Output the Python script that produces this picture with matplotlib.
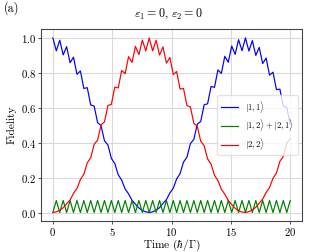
import matplotlib
matplotlib.use("Agg")
import matplotlib.pyplot as plt

plt.rcParams["font.family"] = "serif"
plt.rcParams["font.serif"] = ["cmr10", "DejaVu Serif"]
plt.rcParams["mathtext.fontset"] = "cm"
plt.rcParams["axes.unicode_minus"] = False
plt.rcParams["axes.formatter.use_mathtext"] = True

# sampled at the peaks / troughs of the fast oscillation
time = [0.00, 0.29, 0.58, 0.87, 1.16, 1.45, 1.74, 2.03, 2.32, 2.61,
        2.90, 3.19, 3.48, 3.77, 4.06, 4.35, 4.64, 4.93, 5.22, 5.51,
        5.80, 6.09, 6.38, 6.67, 6.96, 7.25, 7.54, 7.83, 8.12, 8.41,
        8.70, 8.99, 9.28, 9.57, 9.86, 10.15, 10.43, 10.72, 11.01, 11.30,
        11.59, 11.88, 12.17, 12.46, 12.75, 13.04, 13.33, 13.62, 13.91, 14.20,
        14.49, 14.78, 15.07, 15.36, 15.65, 15.94, 16.23, 16.52, 16.81, 17.10,
        17.39, 17.68, 17.97, 18.26, 18.55, 18.84, 19.13, 19.42, 19.71, 20.00]

fid_11 = [1.000, 0.926, 0.987, 0.903, 0.950, 0.858, 0.890, 0.792, 0.811, 0.711,
          0.715, 0.616, 0.610, 0.515, 0.498, 0.411, 0.387, 0.310, 0.281, 0.216,
          0.186, 0.135, 0.107, 0.070, 0.048, 0.026, 0.012, 0.004, 0.000, 0.004,
          0.013, 0.028, 0.052, 0.074, 0.112, 0.140, 0.192, 0.223, 0.289, 0.317,
          0.395, 0.419, 0.506, 0.522, 0.617, 0.623, 0.722, 0.717, 0.817, 0.797,
          0.895, 0.861, 0.954, 0.906, 0.990, 0.927, 1.000, 0.925, 0.985, 0.900,
          0.946, 0.853, 0.885, 0.787, 0.804, 0.704, 0.707, 0.609, 0.601, 0.507]

fid_sym = [0.000, 0.069, 0.000, 0.069, 0.000, 0.069, 0.000, 0.069, 0.000, 0.069,
           0.000, 0.069, 0.000, 0.069, 0.000, 0.069, 0.000, 0.069, 0.000, 0.069,
           0.000, 0.069, 0.000, 0.069, 0.000, 0.069, 0.000, 0.069, 0.000, 0.069,
           0.000, 0.069, 0.000, 0.069, 0.000, 0.069, 0.000, 0.069, 0.000, 0.069,
           0.000, 0.069, 0.000, 0.069, 0.000, 0.069, 0.000, 0.069, 0.000, 0.069,
           0.000, 0.069, 0.000, 0.069, 0.000, 0.069, 0.000, 0.069, 0.000, 0.069,
           0.000, 0.069, 0.000, 0.069, 0.000, 0.069, 0.000, 0.069, 0.000, 0.069]

fid_22 = [0.000, 0.004, 0.013, 0.027, 0.050, 0.072, 0.110, 0.138, 0.189, 0.219,
          0.285, 0.314, 0.390, 0.415, 0.502, 0.519, 0.613, 0.620, 0.719, 0.714,
          0.814, 0.795, 0.893, 0.860, 0.952, 0.904, 0.988, 0.926, 1.000, 0.926,
          0.987, 0.902, 0.949, 0.856, 0.888, 0.790, 0.808, 0.707, 0.711, 0.613,
          0.605, 0.511, 0.494, 0.408, 0.383, 0.307, 0.278, 0.213, 0.183, 0.133,
          0.105, 0.069, 0.046, 0.024, 0.010, 0.003, 0.000, 0.005, 0.015, 0.030,
          0.054, 0.077, 0.115, 0.143, 0.196, 0.226, 0.293, 0.321, 0.399, 0.423]

labels = [r"$|1,1\rangle$", r"$|1,2\rangle+|2,1\rangle$", r"$|2,2\rangle$"]
colors = ["blue", "green", "red"]

fig = plt.figure(figsize=(3.5, 2.625), dpi=96)
ax = fig.add_axes([0.122, 0.122, 0.777, 0.762])

for vals, lab, col in zip([fid_11, fid_sym, fid_22], labels, colors):
    ax.plot(time, vals, color=col, linewidth=0.9, label=lab)

ax.set_xticks([0, 5, 10, 15, 20])
ax.set_yticks([0.0, 0.2, 0.4, 0.6, 0.8, 1.0])
ax.grid(True, color="#d9d9d9", linewidth=0.8)
ax.set_axisbelow(True)
for spine in ax.spines.values():
    spine.set_color("#444444")
    spine.set_linewidth(0.8)
ax.tick_params(labelsize=8, length=2.5, width=0.7, color="#444444", pad=1)

ax.set_xlabel(r"Time $(\hbar/\Gamma)$", fontsize=8.5, labelpad=0)
ax.set_ylabel("Fidelity", fontsize=8.5, labelpad=3)

ax.legend(loc="center right", fontsize=6.5, framealpha=0.8, edgecolor="#dddddd",
          handlelength=2.0, borderpad=0.4, labelspacing=0.3, fancybox=True)

fig.suptitle(r"$\varepsilon_1 = 0, \, \varepsilon_2 = 0$", fontsize=9, y=0.975)
fig.text(0.012, 0.955, "(a)", fontsize=9)

fig.savefig("out.png", dpi=96)
